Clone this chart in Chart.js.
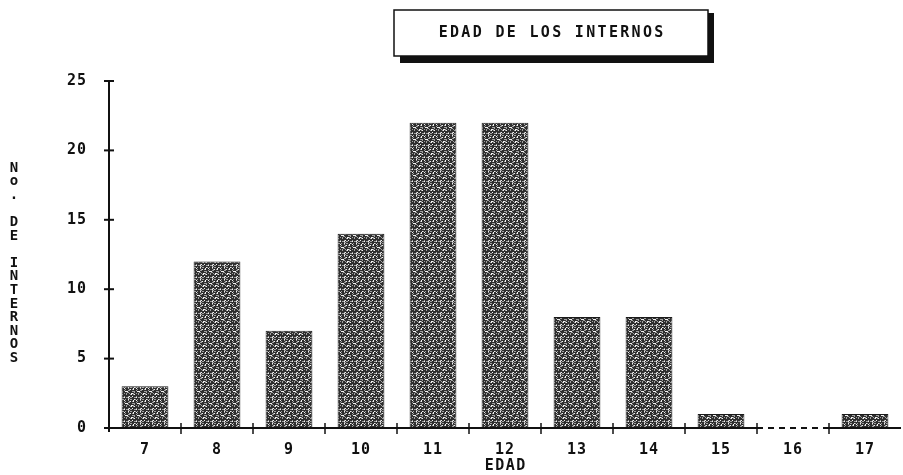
<!DOCTYPE html>
<html>
<head>
<meta charset="utf-8">
<style>
  html, body { margin: 0; padding: 0; background: #fff; }
  #wrap { width: 903px; height: 475px; position: relative; }
</style>
<script src="https://cdn.jsdelivr.net/npm/chart.js@4"></script>
</head>
<body>
<div id="wrap"><canvas id="chart" width="903" height="475"></canvas></div>
<script>
var ages = ['7', '8', '9', '10', '11', '12', '13', '14', '15', '16', '17'];
var internos = [3, 12, 7, 14, 22, 22, 8, 8, 1, 0, 1];
var yTicks = [0, 5, 10, 15, 20, 25];

var titleText = 'EDAD DE LOS INTERNOS',
    yTitle = 'No. DE INTERNOS',
    xTitle = 'EDAD',
    monoFont = '"DejaVu Sans Mono", "Liberation Mono", monospace';

// speckled grey fill, like the dot-matrix print
var makePattern = function (ctx) {
    var c = document.createElement('canvas'), g, x, y, v;
    c.width = 12; c.height = 12;
    g = c.getContext('2d');
    g.fillStyle = '#2e2e2e';
    g.fillRect(0, 0, 12, 12);
    for (y = 0; y < 12; y++) {
        for (x = 0; x < 12; x++) {
            v = (x * 7 + y * 13 + (x * y) % 5) % 9;
            if (v < 3) {
                g.fillStyle = v === 0 ? '#f2f2f2' : '#a0a0a0';
                g.fillRect(x, y, 1, 1);
            }
        }
    }
    return ctx.createPattern(c, 'repeat');
};

// draws text one char at a time with a fixed pitch
var spacedText = function (ctx, text, cx, cy, pitch) {
    var start = cx - (text.length - 1) * pitch / 2, i;
    for (i = 0; i < text.length; i++) {
        ctx.fillText(text[i], start + i * pitch, cy);
    }
};

var decorations = {
    id: 'decorations',
    beforeDraw: function (chart) {
        chart.ctx.letterSpacing = '1px';
    },
    afterDraw: function (chart) {
        var ctx = chart.ctx,
            xs = chart.scales.x,
            ys = chart.scales.y,
            y0 = ys.getPixelForValue(0),
            half = (xs.getPixelForValue(1) - xs.getPixelForValue(0)) / 2,
            i, px, py, cx;

        ctx.save();
        ctx.letterSpacing = '0px';
        ctx.strokeStyle = '#111';
        ctx.lineWidth = 2;

        // y axis
        ctx.beginPath();
        ctx.moveTo(xs.left, ys.getPixelForValue(25));
        ctx.lineTo(xs.left, y0 + 4);
        ctx.stroke();
        yTicks.forEach(function (t) {
            py = ys.getPixelForValue(t);
            ctx.beginPath();
            ctx.moveTo(xs.left - 5, py);
            ctx.lineTo(xs.left + 5, py);
            ctx.stroke();
        });

        // x axis, dashed under empty categories
        for (i = 0; i < ages.length; i++) {
            cx = xs.getPixelForValue(i);
            ctx.setLineDash(internos[i] === 0 ? [6, 5] : []);
            ctx.beginPath();
            ctx.moveTo(cx - half, y0);
            ctx.lineTo(Math.min(cx + half, xs.right), y0);
            ctx.stroke();
        }
        ctx.setLineDash([]);
        ctx.lineWidth = 1.5;
        for (i = 1; i < ages.length; i++) {
            px = (xs.getPixelForValue(i - 1) + xs.getPixelForValue(i)) / 2;
            ctx.beginPath();
            ctx.moveTo(px, y0 - 5);
            ctx.lineTo(px, y0 + 6);
            ctx.stroke();
        }

        // title box with shadow
        ctx.fillStyle = '#111';
        ctx.fillRect(400, 56, 314, 7);
        ctx.fillRect(708, 13, 6, 50);
        ctx.fillStyle = '#fff';
        ctx.fillRect(394, 10, 314, 46);
        ctx.lineWidth = 1.5;
        ctx.strokeRect(394, 10, 314, 46);

        ctx.fillStyle = '#111';
        ctx.font = 'bold 15px ' + monoFont;
        ctx.textAlign = 'center';
        ctx.textBaseline = 'middle';
        spacedText(ctx, titleText, 551, 33, 11.35);

        // vertical y title
        ctx.font = 'bold 14px ' + monoFont;
        for (i = 0; i < yTitle.length; i++) {
            ctx.fillText(yTitle[i], 14, 168 + i * 13.6);
        }

        ctx.font = 'bold 15px ' + monoFont;
        spacedText(ctx, xTitle, 505, 466, 10.5);
        ctx.restore();
    }
};

var ctx = document.getElementById('chart').getContext('2d');

new Chart(ctx, {
    type: 'bar',
    data: {
        labels: ages,
        datasets: [{
            data: internos,
            backgroundColor: makePattern(ctx),
            borderColor: '#1a1a1a',
            borderWidth: 1,
            categoryPercentage: 1,
            barPercentage: 0.65
        }]
    },
    options: {
        responsive: false,
        animation: false,
        events: [],
        layout: { padding: { left: 0, right: 2, top: 81, bottom: 0 } },
        plugins: {
            legend: { display: false },
            title: { display: false },
            tooltip: { enabled: false }
        },
        scales: {
            x: {
                grid: { display: false },
                border: { display: false },
                ticks: {
                    color: '#111',
                    font: { family: monoFont, size: 15, weight: 'bold' },
                    padding: 5,
                    maxRotation: 0
                },
                afterFit: function (scale) { scale.height = 47; }
            },
            y: {
                min: 0,
                max: 25,
                grid: { display: false },
                border: { display: false },
                ticks: {
                    stepSize: 5,
                    color: '#111',
                    font: { family: monoFont, size: 15, weight: 'bold' },
                    padding: 14
                },
                afterFit: function (scale) { scale.width = 109; }
            }
        }
    },
    plugins: [decorations]
});
</script>
</body>
</html>
